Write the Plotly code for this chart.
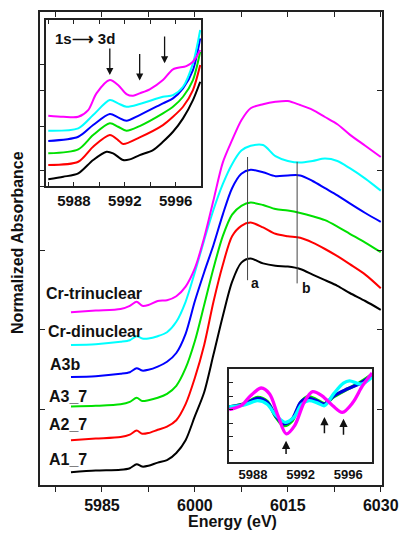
import plotly.graph_objects as go

# ---------------- main XANES spectra ----------------
energy = [5980, 5984, 5988, 5989.5, 5990.6, 5991.5, 5992.5, 5994, 5995.5, 5997, 5998.5,
          6000, 6001.5, 6003, 6004.5, 6006, 6007.5, 6009, 6011, 6013, 6015, 6017, 6019,
          6021, 6023, 6025, 6027.5, 6030]
a1_7 = [0.16, 0.18, 0.19, 0.21, 0.26, 0.23, 0.24, 0.28, 0.31, 0.40, 0.56, 0.86, 1.16, 1.63,
        2.11, 2.54, 2.78, 2.83, 2.77, 2.74, 2.73, 2.70, 2.63, 2.56, 2.49, 2.40, 2.30, 2.19]
a2_7 = [0.56, 0.58, 0.60, 0.63, 0.68, 0.64, 0.65, 0.69, 0.73, 0.81, 1.01, 1.34, 1.75, 2.29,
        2.75, 3.11, 3.24, 3.28, 3.22, 3.14, 3.11, 3.09, 3.03, 2.95, 2.86, 2.76, 2.63, 2.46]
a3_7 = [0.98, 0.99, 1.01, 1.04, 1.09, 1.05, 1.06, 1.09, 1.14, 1.24, 1.46, 1.80, 2.25, 2.71,
        3.11, 3.38, 3.49, 3.53, 3.50, 3.45, 3.43, 3.40, 3.36, 3.31, 3.23, 3.14, 3.03, 2.91]
a3b = [1.35, 1.36, 1.39, 1.41, 1.46, 1.43, 1.44, 1.48, 1.54, 1.65, 1.89, 2.30, 2.66, 3.00,
       3.38, 3.71, 3.89, 3.94, 3.91, 3.86, 3.87, 3.87, 3.80, 3.71, 3.62, 3.52, 3.40, 3.29]
cr_di = [1.75, 1.76, 1.79, 1.81, 1.86, 1.83, 1.83, 1.86, 1.91, 2.04, 2.29, 2.66, 3.06, 3.44,
         3.76, 4.01, 4.18, 4.24, 4.25, 4.11, 4.05, 4.03, 4.05, 4.08, 4.05, 3.96, 3.83, 3.68]
cr_tri = [2.16, 2.18, 2.20, 2.24, 2.29, 2.24, 2.25, 2.30, 2.31, 2.36, 2.48, 2.71, 3.09, 3.56,
          4.03, 4.31, 4.56, 4.71, 4.76, 4.79, 4.80, 4.75, 4.69, 4.60, 4.51, 4.38, 4.24, 4.10]

names = ["A1_7", "A2_7", "A3_7", "A3b", "Cr-dinuclear", "Cr-trinuclear"]
colors = ["#000000", "#ff0000", "#00e000", "#0000ff", "#00ffff", "#ff00ff"]
main_series = [a1_7, a2_7, a3_7, a3b, cr_di, cr_tri]

# ---------------- inset 1: pre-edge region ----------------
e_in1_a = [5985.98, 5987.16, 5988.34, 5989.12, 5989.77, 5990.82, 5991.47, 5992.13, 5992.65,
           5993.17, 5993.96, 5995.0, 5995.79, 5996.84, 5997.36, 5997.93]
in1_tri = [70.3, 69.3, 69.3, 76, 92.7, 106, 101, 92, 90.3, 92.7, 96.7, 106, 116.7, 120, 124.3, 136]
e_in1_b = [5985.98, 5988.34, 5989.51, 5990.82, 5991.47, 5992.13, 5993.17, 5995.0, 5995.79,
           5996.58, 5997.36, 5997.93]
in1_di = [55.3, 57.7, 71, 86, 82.7, 79.3, 82, 89.3, 91, 99.3, 122.7, 156]
in1_a3b = [45, 49.3, 61, 72, 68.7, 65.3, 71, 82.7, 87.7, 97.7, 116, 147.7]
in1_a37 = [32.7, 36.7, 51, 62.7, 59.3, 55.3, 60, 72.7, 79.3, 89.3, 106, 134.3]
e_in1_c = [5985.98, 5988.34, 5989.51, 5990.82, 5991.47, 5991.87, 5993.17, 5995.0, 5995.79,
           5996.58, 5997.36, 5997.93]
in1_a27 = [21, 24.3, 39.3, 51, 46, 42, 48.7, 61, 69.3, 79.3, 96, 121]
e_in1_d = [5985.98, 5987.16, 5988.34, 5989.51, 5990.56, 5991.08, 5991.87, 5992.39, 5993.17,
           5994.22, 5995.0, 5995.79, 5996.58, 5997.36, 5997.93]
in1_a17 = [6.7, 9.3, 12.7, 26, 34.3, 32.7, 26, 26.7, 31, 36, 44.3, 54.3, 67.7, 86, 104.3]

# ---------------- inset 2: derivative spectra ----------------
e_in2_tri = [5986.0, 5987.0, 5987.8, 5988.7, 5989.4, 5990.1, 5990.8, 5991.5, 5992.3, 5993.0,
             5993.8, 5994.7, 5995.5, 5996.4, 5997.2, 5998.0]
d_tri = [3.0, 3.29, 4.02, 4.59, 4.15, 2.56, 1.22, 1.83, 3.54, 4.32, 4.02, 3.29, 2.8, 3.54, 4.76, 5.7]
e_in2 = [5986.0, 5987.3, 5988.4, 5989.2, 5989.9, 5990.6, 5991.3, 5992.0, 5992.6, 5993.3,
         5994.0, 5994.8, 5995.9, 5996.9, 5998.0]
d_a3b = [3.2, 3.41, 3.83, 3.54, 2.56, 1.95, 2.32, 3.54, 3.85, 3.66, 3.41, 4.02, 4.51, 4.88, 5.5]
d_a37 = [3.2, 3.45, 3.9, 3.6, 2.5, 1.83, 2.2, 3.5, 3.95, 3.75, 3.45, 3.95, 4.5, 4.95, 5.6]
e_in2_di = [5986.0, 5987.3, 5988.4, 5989.2, 5989.9, 5990.7, 5991.4, 5992.1, 5992.7, 5993.4,
            5994.0, 5994.8, 5995.6, 5996.1, 5997.1, 5998.0]
d_di = [3.2, 3.35, 3.66, 3.4, 2.6, 2.07, 2.4, 3.4, 3.66, 3.5, 3.29, 4.2, 4.95, 5.12, 4.88, 5.4]

FONT = "Liberation Sans, Arial, sans-serif"

fig = go.Figure()

for nm, col, ys in zip(names, colors, main_series):
    fig.add_trace(go.Scatter(x=energy, y=ys, mode="lines", name=nm,
                             line=dict(color=col, width=2, shape="spline", smoothing=0.8),
                             xaxis="x", yaxis="y", showlegend=False, hoverinfo="skip"))

# dummy trace for the top axis
fig.add_trace(go.Scatter(x=[5980], y=[None], mode="lines", xaxis="x4", yaxis="y",
                         showlegend=False, hoverinfo="skip"))

inset1 = [(e_in1_d, in1_a17, colors[0]), (e_in1_c, in1_a27, colors[1]),
          (e_in1_b, in1_a37, colors[2]), (e_in1_b, in1_a3b, colors[3]),
          (e_in1_b, in1_di, colors[4]), (e_in1_a, in1_tri, colors[5])]
for ex, ys, col in inset1:
    fig.add_trace(go.Scatter(x=ex, y=ys, mode="lines", xaxis="x2", yaxis="y2",
                             line=dict(color=col, width=2, shape="spline", smoothing=0.8),
                             showlegend=False, hoverinfo="skip"))

inset2 = [(e_in2, d_a37, colors[2]), (e_in2, d_a3b, "#0000e0"),
          (e_in2_di, d_di, colors[4]), (e_in2_tri, d_tri, colors[5])]
for ex, ys, col in inset2:
    fig.add_trace(go.Scatter(x=ex, y=ys, mode="lines", xaxis="x3", yaxis="y3",
                             line=dict(color=col, width=3.3, shape="spline", smoothing=0.9),
                             showlegend=False, hoverinfo="skip"))

main_x_ticks = [5977.5, 5985, 5992.5, 6000, 6007.5, 6015, 6022.5, 6030]
main_x_text = ["", "5985", "", "6000", "", "6015", "", "6030"]

axis_line = dict(showline=True, linecolor="#222", linewidth=1.5, showgrid=False,
                 zeroline=False, automargin=False)

fig.update_layout(
    width=402, height=538,
    margin=dict(l=40, r=20, t=12, b=53),
    paper_bgcolor="white", plot_bgcolor="white",
    font=dict(family=FONT, color="#111"),
    xaxis=dict(domain=[0, 1], range=[5975, 6030.2], anchor="y", mirror=True,
               tickmode="array", tickvals=main_x_ticks, ticktext=main_x_text,
               ticks="outside", ticklen=5, tickcolor="#222", tickwidth=1.2,
               tickfont=dict(family=FONT, size=16, weight="bold", color="#111"), **axis_line),
    xaxis4=dict(overlaying="x", side="top", anchor="y", range=[5975, 6030.2],
                tickmode="array", tickvals=main_x_ticks, showticklabels=False,
                ticks="inside", ticklen=5, tickcolor="#222", tickwidth=1.2,
                showline=False, showgrid=False, zeroline=False, automargin=False),
    yaxis=dict(domain=[0, 1], range=[0, 5.9125], anchor="x", mirror="ticks",
               tickmode="array", tickvals=[0.94, 1.94, 2.93, 3.93, 4.93], showticklabels=False,
               ticks="inside", ticklen=5, tickcolor="#222", tickwidth=1.2, **axis_line),
    xaxis2=dict(domain=[0.0175, 0.471], range=[5985.8, 5998], anchor="y2", mirror="ticks",
                tickmode="array", tickvals=[5986, 5988, 5990, 5992, 5994, 5996, 5998],
                ticktext=["", "5988", "", "5992", "", "5996", ""],
                ticks="inside", ticklen=4, tickcolor="#222", tickwidth=1.2,
                tickfont=dict(family=FONT, size=15, weight="bold", color="#111"), **axis_line),
    yaxis2=dict(domain=[0.632, 0.983], range=[0, 166], anchor="x2", mirror=True,
                tickmode="array", tickvals=[0, 60, 122], showticklabels=False,
                ticks="outside", ticklen=5, tickcolor="#222", tickwidth=1.2, **axis_line),
    xaxis3=dict(domain=[0.553, 0.971], range=[5986, 5998], anchor="y3", mirror=True,
                tickmode="array", tickvals=[5988, 5992, 5996],
                ticktext=["5988", "5992", "5996"],
                ticks="", tickfont=dict(family=FONT, size=13, weight="bold", color="#111"),
                **axis_line),
    yaxis3=dict(domain=[0.0486, 0.245], range=[-0.85, 5.98], anchor="x3", mirror=True,
                tickmode="array", tickvals=[0, 1, 2, 3, 4, 5], showticklabels=False,
                ticks="inside", ticklen=4, tickcolor="#222", tickwidth=1.2, **axis_line),
)

# vertical marker lines a and b
fig.add_shape(type="line", xref="x", yref="y", x0=6008.5, x1=6008.5, y0=2.56, y1=4.1,
              line=dict(color="#444", width=1))
fig.add_shape(type="line", xref="x", yref="y", x0=6016.5, x1=6016.5, y0=2.52, y1=4.04,
              line=dict(color="#444", width=1))

ann = []
lab_font = dict(family=FONT, size=16, weight="bold", color="#111")
labels = [("Cr-trinuclear", 5975.65, 2.40), ("Cr-dinuclear", 5976.0, 1.925),
          ("A3b", 5976.3, 1.51), ("A3_7", 5976.2, 1.11), ("A2_7", 5976.2, 0.76),
          ("A1_7", 5976.2, 0.325)]
for t, x, y in labels:
    ann.append(dict(text=t, x=x, y=y, xref="x", yref="y", xanchor="left", yanchor="middle",
                    showarrow=False, font=lab_font))
ann.append(dict(text="a", x=6009.7, y=2.53, xref="x", yref="y", xanchor="center",
                yanchor="middle", showarrow=False, font=dict(family=FONT, size=14, weight="bold", color="#111")))
ann.append(dict(text="b", x=6018.0, y=2.46, xref="x", yref="y", xanchor="center",
                yanchor="middle", showarrow=False, font=dict(family=FONT, size=14, weight="bold", color="#111")))
ann.append(dict(text="1s\u27f6 3d", x=5986.35, y=148, xref="x2", yref="y2", xanchor="left",
                yanchor="middle", showarrow=False, font=dict(family=FONT, size=15, weight="bold", color="#111")))
# axis titles
ann.append(dict(text="Energy (eV)", x=0.564, y=-0.078, xref="paper", yref="paper",
                xanchor="center", yanchor="middle", showarrow=False,
                font=dict(family=FONT, size=16, weight="bold", color="#111")))
ann.append(dict(text="Normalized Absorbance", x=-0.064, y=0.512, xref="paper", yref="paper",
                xanchor="center", yanchor="middle", showarrow=False, textangle=-90,
                font=dict(family=FONT, size=16, weight="bold", color="#111")))

# arrows in inset 1 (pointing down)
for ex, head, tail in [(5990.82, 111, 139), (5993.17, 105.5, 133.5), (5995.13, 122.7, 151)]:
    ann.append(dict(text="", x=ex, y=head, ax=ex, ay=tail, xref="x2", yref="y2",
                    axref="x2", ayref="y2", showarrow=True, arrowhead=2, arrowsize=1.1,
                    arrowwidth=1.3, arrowcolor="#111"))
# arrows in inset 2 (pointing up)
for ex, head, tail in [(5990.78, 0.72, -0.38), (5994.0, 2.45, 1.15), (5995.6, 2.33, 1.05)]:
    ann.append(dict(text="", x=ex, y=head, ax=ex, ay=tail, xref="x3", yref="y3",
                    axref="x3", ayref="y3", showarrow=True, arrowhead=2, arrowsize=1.1,
                    arrowwidth=1.5, arrowcolor="#111"))

fig.update_layout(annotations=ann)
fig.write_html("out.html")
